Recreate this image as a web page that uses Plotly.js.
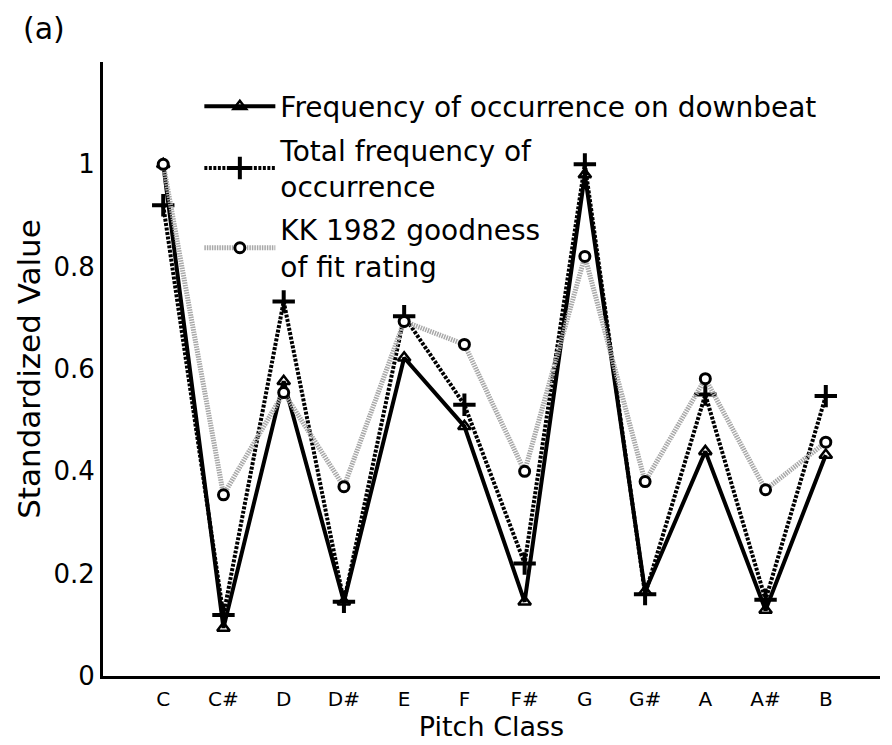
<!DOCTYPE html>
<html>
<head>
<meta charset="utf-8">
<script src="https://cdn.plot.ly/plotly-3.0.1.min.js"></script>
<style>html,body{margin:0;padding:0;background:#fff;}#chart{width:892px;height:745px;}</style>
</head>
<body>
<div id="chart"></div>
<script>
var pitchClasses = ["C","C#","D","D#","E","F","F#","G","G#","A","A#","B"];
var downbeat = [1.00, 0.094, 0.576, 0.145, 0.622, 0.488, 0.145, 0.980, 0.165, 0.439, 0.129, 0.432];
var totalFreq = [0.92, 0.119, 0.732, 0.145, 0.703, 0.530, 0.220, 1.000, 0.160, 0.550, 0.149, 0.547];
var kk1982 = [1.00, 0.354, 0.554, 0.370, 0.693, 0.648, 0.400, 0.820, 0.380, 0.581, 0.364, 0.457];
var yTickVals = [0, 0.2, 0.4, 0.6, 0.8, 1];

var FONT = "'DejaVu Sans', sans-serif";

var traces = [
  {
    x: pitchClasses, y: downbeat, type: "scatter", mode: "lines+markers",
    name: "Frequency of occurrence on downbeat", legendgroup: "g1",
    line: {color: "#000", width: 4},
    marker: {symbol: "triangle-up-open", size: 11, color: "#000", line: {width: 2.5, color: "#000"}}
  },
  {
    x: pitchClasses, y: totalFreq, type: "scatter", mode: "lines+markers",
    name: "Total frequency of<br>occurrence", legendgroup: "g2",
    line: {color: "#000", width: 4, dash: "3px,1.5px"},
    marker: {symbol: "cross-thin-open", size: 16, color: "#000", line: {width: 4, color: "#000"}}
  },
  {
    x: pitchClasses, y: kk1982, type: "scatter", mode: "lines+markers",
    name: "KK 1982 goodness<br>of fit rating", legendgroup: "g3",
    line: {color: "#a8a8a8", width: 5, dash: "1.5px,1px"},
    marker: {symbol: "circle", size: 10, color: "#fff", line: {width: 3, color: "#000"}}
  }
];

var layout = {
  width: 892, height: 745,
  margin: {l: 103, r: 12, t: 62, b: 69},
  paper_bgcolor: "#fff", plot_bgcolor: "#fff",
  font: {family: FONT, color: "#000", size: 20},
  showlegend: true,
  legend: {
    x: 0.124, y: 0.968, xanchor: "left", yanchor: "top",
    bgcolor: "rgba(0,0,0,0)", borderwidth: 0,
    font: {family: FONT, size: 28, color: "#000"},
    itemwidth: 71, valign: "middle", tracegroupgap: 4
  },
  xaxis: {
    type: "category", range: [-1, 11.9],
    showline: true, linecolor: "#000", linewidth: 3,
    showgrid: false, zeroline: false, ticks: "",
    ticklabelstandoff: 3,
    tickfont: {family: FONT, size: 20},
    title: {text: "Pitch Class", font: {family: FONT, size: 27}, standoff: 0}
  },
  yaxis: {
    range: [0, 1.2],
    tickvals: yTickVals,
    showline: true, linecolor: "#000", linewidth: 3,
    showgrid: false, zeroline: false, ticks: "",
    ticklabelstandoff: 0,
    tickfont: {family: FONT, size: 26},
    title: {text: "Standardized Value", font: {family: FONT, size: 31}, standoff: 4}
  },
  annotations: [
    {text: "(a)", xref: "paper", yref: "paper", x: -0.105, y: 1.055, xanchor: "left", yanchor: "middle",
     showarrow: false, font: {family: FONT, size: 30, color: "#000"}}
  ]
};

Plotly.newPlot("chart", traces, layout, {displayModeBar: false, staticPlot: true});
</script>
</body>
</html>
